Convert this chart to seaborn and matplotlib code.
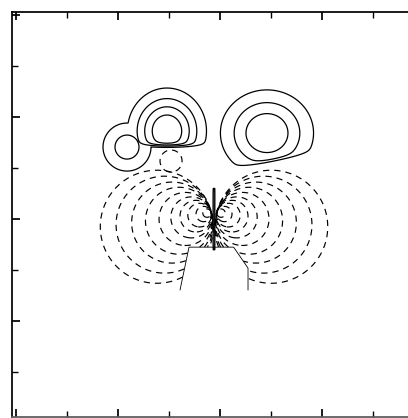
import numpy as np
import matplotlib
matplotlib.use("Agg")
import matplotlib.pyplot as plt
from matplotlib.ticker import MultipleLocator
import seaborn as sns

sns.set_theme(style="white")
plt.rcParams["lines.scale_dashes"] = False

# ---- positive lobes (solid contours) ----
pos_cx = [-0.912, -0.520, 0.461]
pos_cy = [0.706, 0.863, 0.843]
pos_sx = [0.173, 0.216, 0.275]
pos_sy = [0.173, 0.235, 0.255]
pos_peak = [2.52, 5.0, 3.97]
# cusp through which each lobe is cut off from below (x, y, slope)
cusp_x = [-0.912, -0.510, 0.275]
cusp_y = [-9.0, 0.716, 0.520]
cusp_slope = [0.0, 0.0, 0.2]
pos_levels = [1.0, 2.0, 3.0, 4.0]

# ---- negative lobes (dashed contours): near-tangent circle families ----
neg_origin_x = [-0.088, -0.029]   # left family, right family
neg_origin_y = [0.069, 0.069]
neg_side = [1.0, -1.0]
neg_radii = [0.041, 0.075, 0.116, 0.155, 0.201, 0.260, 0.328, 0.397, 0.475, 0.554]
pocket_x, pocket_y, pocket_r = -0.480, 0.569, 0.108
node_x = -0.059

x_lo, x_hi = -2.04, 2.06
y_lo, y_hi = -1.94, 2.03
x = np.linspace(x_lo, x_hi, 900)
y = np.linspace(y_lo, y_hi, 880)
X, Y = np.meshgrid(x, y)

# positive field: the envelope of the individual lobes
P = np.zeros_like(X)
for cx, cy, sx, sy, amp, kx, ky, ks in zip(pos_cx, pos_cy, pos_sx, pos_sy, pos_peak,
                                          cusp_x, cusp_y, cusp_slope):
    g = amp * np.exp(-0.5 * (((X - cx) / sx) ** 2 + ((Y - cy) / sy) ** 2))
    arg = np.clip((Y - (ky + ks * (X - kx))) / 0.012, -60, 60)
    g = g / (1.0 + np.exp(-arg))
    P = np.maximum(P, g)

# excluded wedge below the centre
xl = -0.314 + 0.21 * (Y + 0.324)
xr = np.minimum(0.275, 0.147 + 0.688 * (-0.294 - Y))
wedge = np.minimum(np.minimum(-0.275 - Y, X - xl), xr - X)

a_dir, b_dir = 0.96, 0.26
k = 1.0 - a_dir ** 2 - b_dir ** 2


def family_radius(x0, y0, side):
    u = X - x0
    v = Y - y0
    s = side * a_dir * u + b_dir * v
    q = u ** 2 + v ** 2
    return q / (np.sqrt(s ** 2 + k * q) - s + 1e-12)


fig = plt.figure(figsize=(4.08, 4.18), dpi=100)
ax = fig.add_axes([12 / 408, 1 / 418, 418 / 408, 405 / 418])

dash = [(0, (4.5, 3.6))]
for x0, y0, side in zip(neg_origin_x, neg_origin_y, neg_side):
    R = family_radius(x0, y0, side)
    R = np.where((P > 0.8) | (wedge > 0) | (side * (X - node_x) > 0), np.nan, R)
    ax.contour(X, Y, R, levels=neg_radii, colors="black",
               linewidths=0.85, linestyles=dash)

pocket = np.hypot(X - pocket_x, Y - pocket_y)
pocket = np.where(P > 0.8, np.nan, pocket)
ax.contour(X, Y, pocket, levels=[pocket_r], colors="black",
           linewidths=0.85, linestyles=dash)

ax.contour(X, Y, P, levels=pos_levels, colors="black", linewidths=0.9)

# boundary of the excluded wedge
wb = np.where(Y < -0.70, np.nan, wedge)
ax.contour(X, Y, wb, levels=[0.0], colors="black", linewidths=0.6)

# crowded contours along the nodal plane
node = np.maximum(np.abs(X - node_x) / 0.008, np.abs(Y - 0.0) / 0.30)
ax.contour(X, Y, node, levels=[1.0], colors="black", linewidths=1.0)

ax.set_xlim(x_lo, x_hi)
ax.set_ylim(y_lo, y_hi)
ax.xaxis.set_major_locator(MultipleLocator(1.0))
ax.xaxis.set_minor_locator(MultipleLocator(0.5))
ax.yaxis.set_major_locator(MultipleLocator(1.0))
ax.yaxis.set_minor_locator(MultipleLocator(0.5))
ax.tick_params(which="both", direction="in", top=True, bottom=True,
               left=True, right=False, labelbottom=False, labelleft=False,
               colors="black")
ax.spines["left"].set_color("black")
ax.spines["top"].set_color("black")
ax.spines["bottom"].set_color("0.35")
ax.spines["right"].set_visible(False)

fig.savefig("out.png", dpi=100, facecolor="white")
